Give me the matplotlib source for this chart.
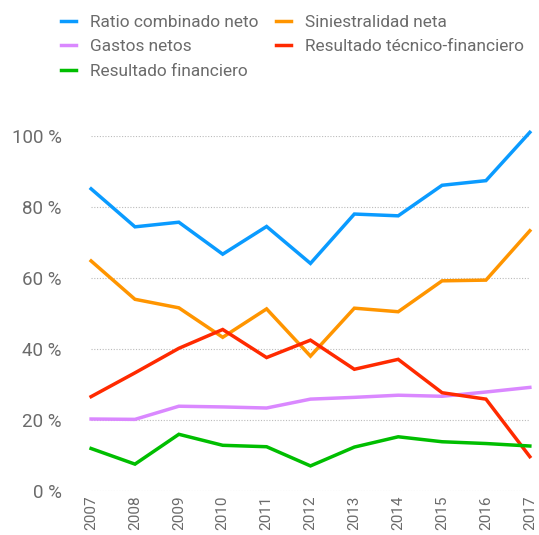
import matplotlib
matplotlib.use("Agg")
import matplotlib.pyplot as plt
from matplotlib.ticker import FuncFormatter

plt.rcParams['font.family'] = ['Roboto', 'DejaVu Sans']

years = [2007, 2008, 2009, 2010, 2011, 2012, 2013, 2014, 2015, 2016, 2017]
ratio_combinado = [85.1, 74.4, 75.7, 66.7, 74.5, 64.1, 78.0, 77.5, 86.1, 87.4, 101.0]
siniestralidad = [64.8, 54.0, 51.6, 43.3, 51.3, 38.0, 51.5, 50.5, 59.2, 59.4, 73.3]
gastos = [20.3, 20.2, 23.9, 23.7, 23.4, 25.9, 26.4, 27.0, 26.7, 27.9, 29.2]
resultado_tecnico = [26.6, 33.3, 40.2, 45.5, 37.6, 42.5, 34.3, 37.1, 27.7, 25.9, 9.7]
resultado_financiero = [12.0, 7.6, 16.0, 12.9, 12.5, 7.1, 12.4, 15.3, 13.9, 13.4, 12.7]

series = [
    ("Ratio combinado neto", ratio_combinado, "#0A9BFF"),
    ("Siniestralidad neta", siniestralidad, "#FF9500"),
    ("Gastos netos", gastos, "#DA88FF"),
    ("Resultado técnico-financiero", resultado_tecnico, "#FF2A00"),
    ("Resultado financiero", resultado_financiero, "#00BE00"),
]

text_color = "#6b6b6b"

fig = plt.figure(figsize=(5.39, 5.35), dpi=100)
ax = fig.add_axes([0.169, 0.082, 0.814, 0.664])

handles = {}
for label, vals, color in series:
    (h,) = ax.plot(years, vals, color=color, lw=2.5, label=label,
                   solid_joinstyle="miter", clip_on=False)
    handles[label] = h

ax.set_xlim(2007, 2017)
ax.set_ylim(0, 100)
ax.set_yticks(range(0, 101, 20))
ax.yaxis.set_major_formatter(FuncFormatter(lambda v, p: f"{int(v)} %"))
ax.set_xticks(years)
ax.set_xticklabels([str(y) for y in years], rotation=90)

ax.grid(axis="y", linestyle=(0, (1, 1.5)), color="#bbbbbb", lw=0.8)
ax.set_axisbelow(True)
for s in ax.spines.values():
    s.set_visible(False)
ax.tick_params(axis="both", length=0, colors=text_color)
ax.tick_params(axis="y", labelsize=13.5, pad=21)
ax.tick_params(axis="x", labelsize=11, pad=3)

order = ["Ratio combinado neto", "Gastos netos", "Resultado financiero",
         "Siniestralidad neta", "Resultado técnico-financiero"]
leg = fig.legend([handles[k] for k in order], order, ncol=2,
                 loc="upper left", bbox_to_anchor=(0.09, 0.995),
                 frameon=False, fontsize=12.4, handlelength=0.9,
                 handletextpad=0.8, columnspacing=1.0, labelspacing=0.55,
                 borderaxespad=0.3)
for t in leg.get_texts():
    t.set_color(text_color)

fig.savefig("out.png", dpi=100)
